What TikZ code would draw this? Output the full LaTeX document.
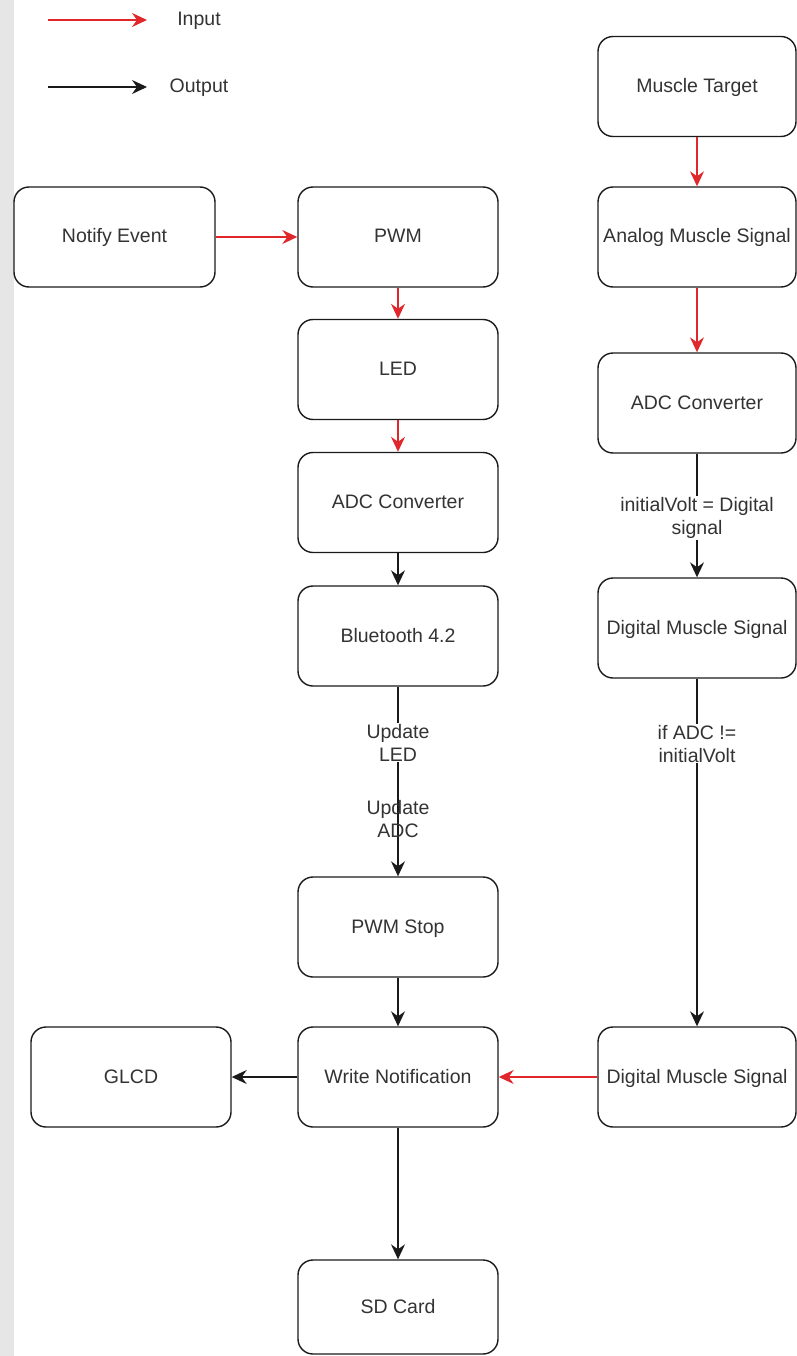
\documentclass[tikz,border=0pt]{standalone}
\usepackage{fontspec}
\setmainfont{Liberation Sans}
\usetikzlibrary{arrows.meta}
\definecolor{inred}{HTML}{E0282C}
\definecolor{txt}{HTML}{333333}
\definecolor{edge}{HTML}{1A1A1A}
\definecolor{strip}{HTML}{E6E6E6}

\begin{document}
\begin{tikzpicture}[x=1pt,y=-1pt,
  box/.style={draw=edge, line width=1.4pt, rounded corners=15pt,
    minimum width=200pt, minimum height=100pt, inner sep=0pt,
    text=txt, font=\fontsize{19.5}{23}\selectfont, align=center,
    text height=15pt, text depth=3pt},
  tip/.style={-{Stealth[length=15pt,width=14pt,inset=5pt]}},
  inarrow/.style={tip, draw=inred, fill=inred, line width=1.4pt},
  outarrow/.style={tip, draw=edge, fill=edge, line width=1.4pt},
  lbl/.style={text=txt, font=\fontsize{19.5}{23}\selectfont, align=center, inner sep=1pt},
  legend/.style={text=txt, font=\fontsize{19.5}{23}\selectfont, inner sep=0pt,
    text height=15pt, text depth=3pt}
]
\useasboundingbox (0,0) rectangle (797,1356);
\fill[strip] (0,0) rectangle (14,1356);

% legend
\coordinate (inA) at (48,20);
\coordinate (inB) at (147,20);
\coordinate (outA) at (48,87);
\coordinate (outB) at (147,87);
\node[legend] (inLbl) at (199,20) {Input};
\node[legend] (outLbl) at (199,87) {Output};
\draw[inarrow] (inA) -- (inB);
\draw[outarrow] (outA) -- (outB);

% left / middle column
\node[box, minimum width=201pt] (notify) at (114.5,237) {Notify Event};
\node[box] (pwm) at (398,237) {PWM};
\node[box] (led) at (398,369.5) {LED};
\node[box] (adcA) at (398,502.5) {ADC Converter};
\node[box] (bt) at (398,636) {Bluetooth 4.2};
\node[box] (stop) at (398,927) {PWM Stop};
\node[box] (write) at (398,1077) {Write Notification};
\node[box, minimum height=94pt] (sd) at (398,1307) {SD Card};
\node[box] (glcd) at (131,1077) {GLCD};

% right column
\node[box, minimum width=198pt] (target) at (697,86.5) {Muscle Target};
\node[box, minimum width=198pt] (analog) at (697,237) {Analog Muscle Signal};
\node[box, minimum width=198pt] (adcB) at (697,403) {ADC Converter};
\node[box, minimum width=198pt] (digA) at (697,628) {Digital Muscle Signal};
\node[box, minimum width=198pt] (digB) at (697,1077) {Digital Muscle Signal};

% input flows
\draw[inarrow] (notify) -- (pwm);
\draw[inarrow] (pwm) -- (led);
\draw[inarrow] (led) -- (adcA);
\draw[inarrow] (target) -- (analog);
\draw[inarrow] (analog) -- (adcB);
\draw[inarrow] (digB) -- (write);

% output flows
\draw[outarrow] (adcA) -- (bt);
\draw[outarrow] (bt) -- (stop)
  node[lbl, fill=white, pos=0.295] (updLed) {Update\\LED}
  node[lbl, pos=0.70] (updAdc) {Update\\ADC};
\draw[outarrow] (stop) -- (write);
\draw[outarrow] (write) -- (glcd);
\draw[outarrow] (write) -- (sd);
\draw[outarrow] (adcB) -- (digA)
  node[lbl, fill=white, pos=0.52] (initLbl) {initialVolt = Digital\\signal};
\draw[outarrow] (digA) -- (digB)
  node[lbl, fill=white, pos=0.187] (ifLbl) {if ADC !=\\initialVolt};
\end{tikzpicture}
\end{document}
